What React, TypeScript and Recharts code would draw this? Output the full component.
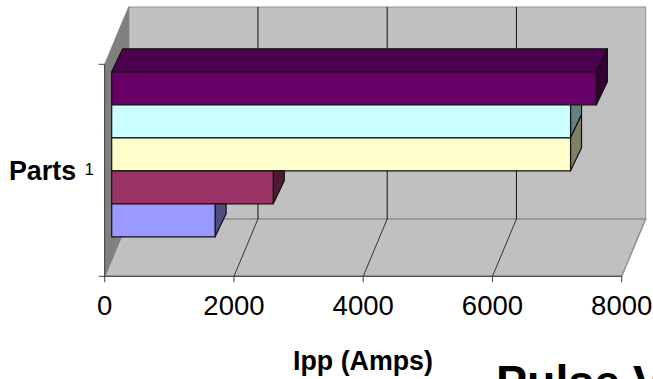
import { BarChart, Bar, XAxis, YAxis, ReferenceArea } from "recharts";

const categories = ["1"];
const seriesNames = ["s1", "s2", "s3", "s4", "s5"];
const seriesValues = [7500, 7100, 7100, 2500, 1600];
const faceColors = ["#660066", "#CCFFFF", "#FFFFCC", "#993366", "#9999FF"];
const topColors = ["#4D004D", "#99BFBF", "#BFBF99", "#732640", "#7373BF"];
const sideColors = ["#330033", "#668080", "#808066", "#4D1A33", "#4D4D80"];
const xTicks = [0, 2000, 4000, 6000, 8000];

const WIDTH = 653;
const HEIGHT = 379;
// depth of the whole plot box, and of one bar, in pixels
const BOX_DX = 24;
const BOX_DY = 57.3;
const BAR_DX = 11;
const BAR_DY = 23;
const BAR_SHIFT_DX = 7;
const BAR_SHIFT_DY = 16.5;

const FONT = "Liberation Sans, Arial, sans-serif";

const data = categories.map((name) => {
  const row: Record<string, string | number> = { name };
  seriesNames.forEach((s, i) => {
    row[s] = seriesValues[i];
  });
  return row;
});

const Walls = ({ x, y, width, height }: any) => {
  const bottom = y + height;
  const right = x + width;
  return (
    <g>
      <rect x={x + BOX_DX} y={y - BOX_DY} width={width} height={height} fill="#C0C0C0" stroke="#909090" strokeWidth={1} />
      <polygon
        points={`${x},${bottom} ${x + BOX_DX},${bottom - BOX_DY} ${right + BOX_DX},${bottom - BOX_DY} ${right},${bottom}`}
        fill="#C0C0C0"
        stroke="#909090"
        strokeWidth={1.5}
      />
      <polygon
        points={`${x},${y} ${x + BOX_DX},${y - BOX_DY} ${x + BOX_DX},${bottom - BOX_DY} ${x},${bottom}`}
        fill="#808080"
        stroke="#808080"
        strokeWidth={1}
      />
      <line x1={x - 6} x2={x} y1={y} y2={y} stroke="#404040" />
      <line x1={x - 6} x2={x} y1={bottom} y2={bottom} stroke="#404040" />
    </g>
  );
};

// grid line for one x tick: up the back wall and across the floor
const DepthGridLine = ({ x, y, height }: any) => {
  const bottom = y + height;
  return (
    <g>
      <line x1={x + BOX_DX} x2={x + BOX_DX} y1={y - BOX_DY} y2={bottom - BOX_DY} stroke="#111111" />
      <line x1={x} x2={x + BOX_DX} y1={bottom} y2={bottom - BOX_DY} stroke="#333333" />
    </g>
  );
};

const Bar3D = (props: any) => {
  const { x, y, width, height, fill, topFill, sideFill, showTop, hiddenAbove } = props;
  const left = x + BAR_SHIFT_DX;
  const top = y - BAR_SHIFT_DY;
  const right = left + width;
  const bottom = top + height;
  // a longer bar above hides the upper part of this bar's end face
  const sideTop = hiddenAbove
    ? `${right},${top} ${right + BAR_DX},${top}`
    : `${right},${top} ${right + BAR_DX},${top - BAR_DY}`;
  return (
    <g stroke="#111111" strokeWidth={1.2} strokeLinejoin="round">
      {showTop && (
        <polygon
          points={`${left},${top} ${left + BAR_DX},${top - BAR_DY} ${right + BAR_DX},${top - BAR_DY} ${right},${top}`}
          fill={topFill}
        />
      )}
      <polygon points={`${sideTop} ${right + BAR_DX},${bottom - BAR_DY} ${right},${bottom}`} fill={sideFill} />
      <rect x={left} y={top} width={width} height={height} fill={fill} />
    </g>
  );
};

const XTick = ({ x, payload, floorY }: any) => (
  <g>
    <line x1={x} x2={x} y1={floorY} y2={floorY + 6} stroke="#404040" />
    <text x={x} y={floorY + 39} textAnchor="middle" fontFamily={FONT} fontSize={27.5} fill="#000000">
      {payload.value}
    </text>
  </g>
);

const YTick = ({ y, payload }: any) => (
  <g>
    <text x={94} y={y + 5} textAnchor="end" fontFamily={FONT} fontSize={17} fill="#000000">
      {payload.value}
    </text>
    <text x={9} y={y + 10} fontFamily={FONT} fontSize={26.8} fontWeight="bold" fill="#000000">
      Parts
    </text>
  </g>
);

export default function App() {
  const top = 64.3;
  const floorY = 276.3;
  return (
    <div style={{ position: "absolute", left: 0, top: 0, width: WIDTH, height: HEIGHT, background: "#ffffff", overflow: "hidden" }}>
      <BarChart
        width={WIDTH}
        height={HEIGHT}
        data={data}
        layout="vertical"
        margin={{ top, right: 31.3, bottom: 0, left: 0 }}
        barCategoryGap={24}
        barGap={0}
      >
        <ReferenceArea x1={0} x2={8000} ifOverflow="visible" shape={<Walls />} />
        {xTicks.slice(1, -1).map((t) => (
          <ReferenceArea key={t} x1={t} x2={t} ifOverflow="visible" shape={<DepthGridLine />} />
        ))}
        <XAxis
          type="number"
          domain={[0, 8000]}
          ticks={xTicks}
          height={HEIGHT - floorY}
          interval={0}
          tickLine={false}
          axisLine={{ stroke: "#404040" }}
          tick={<XTick floorY={floorY} />}
        />
        <YAxis type="category" dataKey="name" width={104.7} tickLine={false} axisLine={{ stroke: "#404040" }} tick={<YTick />} />
        {seriesNames.map((s, i) => (
          <Bar
            key={s}
            dataKey={s}
            fill={faceColors[i]}
            isAnimationActive={false}
            shape={
              <Bar3D
                topFill={topColors[i]}
                sideFill={sideColors[i]}
                showTop={i === 0}
                hiddenAbove={i > 0 && seriesValues[i - 1] > seriesValues[i]}
              />
            }
          />
        ))}
        <text x={293} y={370} fontFamily={FONT} fontSize={26.8} fontWeight="bold" fill="#000000">
          Ipp (Amps)
        </text>
        <text x={496} y={398} fontFamily={FONT} fontSize={46.5} fontWeight="bold" fill="#000000">
          Pulse V
        </text>
      </BarChart>
    </div>
  );
}
